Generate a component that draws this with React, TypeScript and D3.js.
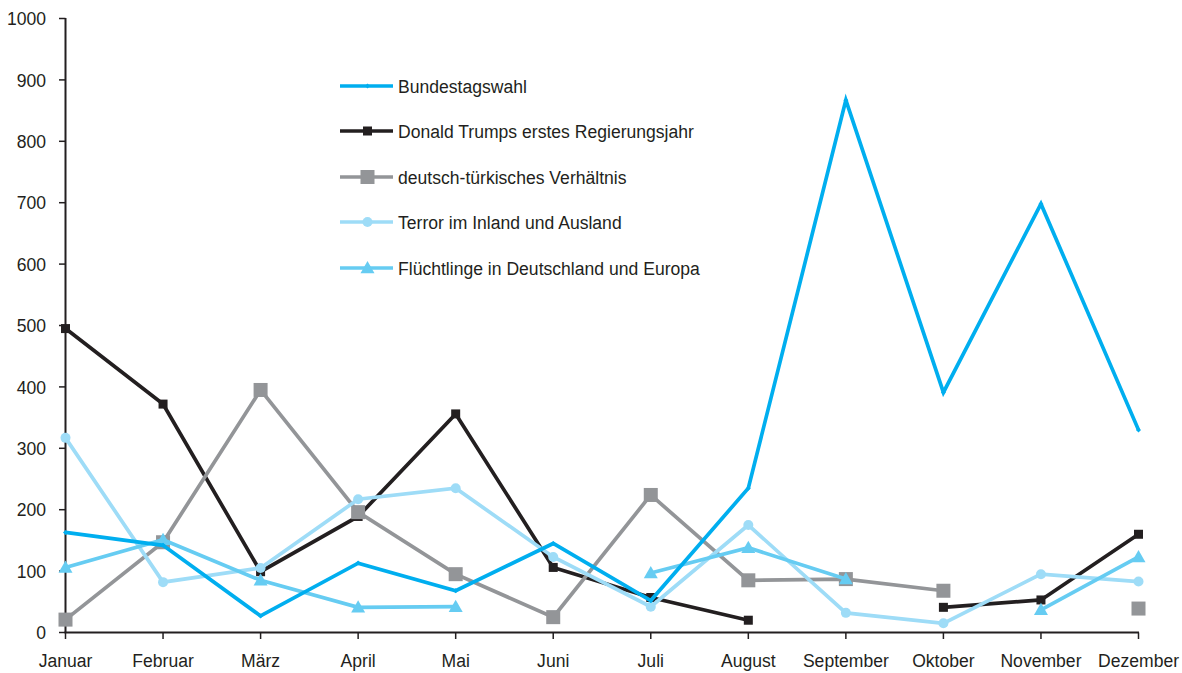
import React from "react";
import * as d3 from "d3";

const months = ["Januar","Februar","März","April","Mai","Juni","Juli","August","September","Oktober","November","Dezember"];
const yTicks = [0,100,200,300,400,500,600,700,800,900,1000];

const bundestagswahl: (number|null)[] = [163,142,27,113,68,145,52,235,867,391,698,330];
const trump: (number|null)[] = [495,372,99,189,356,106,57,20,null,41,53,160];
const tuerkei: (number|null)[] = [21,147,395,196,95,25,224,85,87,68,null,39];
const terror: (number|null)[] = [317,82,105,217,235,123,42,175,32,15,95,83];
const fluechtlinge: (number|null)[] = [106,151,85,41,42,null,97,138,87,null,37,123];

const seriesNames = ["Bundestagswahl","Donald Trumps erstes Regierungsjahr","deutsch-türkisches Verhältnis","Terror im Inland und Ausland","Flüchtlinge in Deutschland und Europa"];
const seriesColors = ["#00AEEF","#231F20","#939598","#9EDCF7","#66CCF2"];
const seriesMarkers = ["diamond","smallSquare","bigSquare","circle","triangle"];
const seriesData = [bundestagswahl,trump,tuerkei,terror,fluechtlinge];
const drawOrder = [1,2,3,4,0];

const FONT = "'Liberation Sans', Arial, sans-serif";
const SX = 0.925;

function Marker({kind,x,y,color}:{kind:string;x:number;y:number;color:string}) {
  if (kind==="diamond") {
    const s=2.5;
    return <path d={`M${x},${y-s}L${x+s},${y}L${x},${y+s}L${x-s},${y}Z`} fill={color}/>;
  }
  if (kind==="smallSquare") return <rect x={x-4.5} y={y-4.5} width={9} height={9} fill={color}/>;
  if (kind==="bigSquare") return <rect x={x-7} y={y-7} width={14} height={14} fill={color}/>;
  if (kind==="circle") return <circle cx={x} cy={y} r={5} fill={color}/>;
  const s=7;
  return <path d={`M${x},${y-s}L${x+s},${y+s*0.75}L${x-s},${y+s*0.75}Z`} fill={color}/>;
}

function T({x,y,anchor,children,dy}:{x:number;y:number;anchor?:string;children:React.ReactNode;dy?:string}) {
  return (
    <text transform={`translate(${x},${y}) scale(${SX},1)`} dy={dy} textAnchor={anchor||"start"} fontSize={19} fill="#231F20">{children}</text>
  );
}

export default function App() {
  const W=1182,H=673;
  const x = d3.scalePoint<string>().domain(months).range([65.5,1138.5]);
  const y = d3.scaleLinear().domain([0,1000]).range([632.5,18.5]);
  const line = d3.line<number|null>()
    .defined(d=>d!==null)
    .x((_,i)=>x(months[i]) as number)
    .y(d=>y(d as number));

  const legendX1=340, legendX2=393, legendTextX=398;
  const legendY=[86,131,177,222,268];

  return (
    <svg width={W} height={H} style={{position:"absolute",left:0,top:0,background:"#fff"}} fontFamily={FONT}>
      {/* y axis */}
      <line x1={65.5} x2={65.5} y1={18} y2={633} stroke="#231F20" strokeWidth={2}/>
      {yTicks.map(t=>(
        <g key={t}>
          <line x1={59} x2={65.5} y1={y(t)} y2={y(t)} stroke="#231F20" strokeWidth={1.5}/>
          <T x={46} y={y(t)} dy="0.35em" anchor="end">{t}</T>
        </g>
      ))}
      {/* x axis */}
      <line x1={64.5} x2={1139} y1={632.5} y2={632.5} stroke="#231F20" strokeWidth={2}/>
      {months.map(m=>(
        <g key={m}>
          <line x1={x(m)} x2={x(m)} y1={632.5} y2={639} stroke="#231F20" strokeWidth={1.5}/>
          <T x={x(m) as number} y={667} anchor="middle">{m}</T>
        </g>
      ))}
      {/* series */}
      {drawOrder.map(si=>{
        const data=seriesData[si];
        return (
          <g key={si}>
            <path d={line(data) || ""} fill="none" stroke={seriesColors[si]} strokeWidth={3.7} strokeLinejoin="miter"/>
            {data.map((v,i)=> v===null ? null :
              <Marker key={i} kind={seriesMarkers[si]} x={x(months[i]) as number} y={y(v)} color={seriesColors[si]}/>
            )}
          </g>
        );
      })}
      {/* legend */}
      {seriesNames.map((n,i)=>(
        <g key={n}>
          <line x1={legendX1} x2={legendX2} y1={legendY[i]} y2={legendY[i]} stroke={seriesColors[i]} strokeWidth={3.7}/>
          <Marker kind={seriesMarkers[i]} x={(legendX1+legendX2)/2+1} y={legendY[i]} color={seriesColors[i]}/>
          <T x={legendTextX} y={legendY[i]} dy="0.35em">{n}</T>
        </g>
      ))}
    </svg>
  );
}
